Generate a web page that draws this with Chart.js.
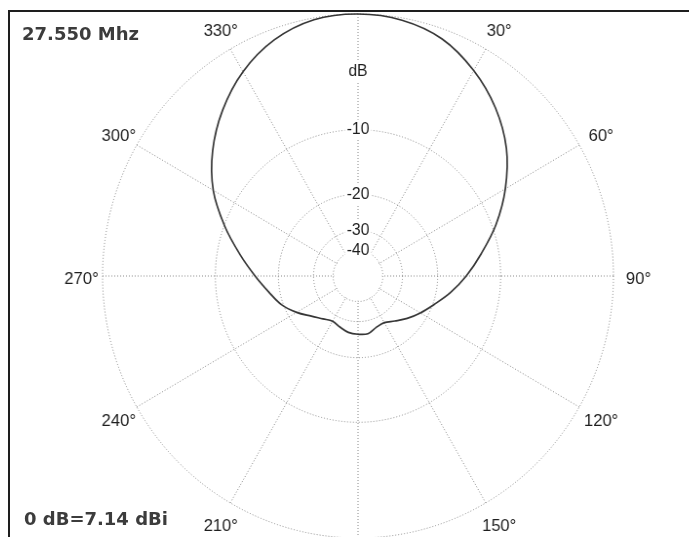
<!DOCTYPE html>
<html><head><meta charset="utf-8">
<script src="https://cdn.jsdelivr.net/npm/chart.js@4.4.1/dist/chart.umd.min.js"></script>
<style>
html,body{margin:0;padding:0;background:#fff;overflow:hidden;width:689px;height:537px;position:relative;}
#frame{position:absolute;left:8px;top:10px;width:800px;height:700px;border-left:2px solid #1e1e1e;border-top:2px solid #1e1e1e;}
#wrap{position:absolute;left:38px;top:4px;width:640px;height:544px;transform:scaleX(0.975);transform-origin:320px 272px;}
.txt{position:absolute;font-family:'DejaVu Sans',sans-serif;font-weight:bold;font-size:18px;line-height:20px;color:#3c3c3c;white-space:nowrap;}
</style></head><body>
<div id="frame"></div>
<div id="wrap"><canvas id="c" width="640" height="544"></canvas></div>
<div class="txt" style="left:22px;top:24px">27.550 Mhz</div>
<div class="txt" style="left:24px;top:509px">0 dB=7.14 dBi</div>
<script>
// azimuth of each sample (degrees, clockwise from top)
const azimuthDeg = [0,10,20,30,40,50,60,70,80,90,100,110,120,130,140,150,160,170,
                    180,190,200,210,220,230,240,250,260,270,280,290,300,310,320,330,340,350];
// relative gain (dB, 0 dB = 7.14 dBi)
const gainDb = [0,-0.15,-0.65,-1.7,-3.05,-4.75,-6.98,-9.5,-12.25,-14.74,-17.2,-19.7,-21.75,-23.7,-25.65,-27.15,-26.9,-25.7,
                -25.8,-26.1,-27.0,-27.7,-26.5,-24.6,-22.0,-19.6,-17.8,-15.6,-13.0,-10.1,-7.28,-5.1,-3.3,-1.8,-0.72,-0.12];
// labelled azimuths
const angleLabelDeg = [30,60,90,120,150,210,240,270,300,330];
// dB rings
const ringDb = [-40,-30,-20,-10];
const ringLabels = ['-40','-30','-20','-10'];
const unitLabel = 'dB';
const unitLabelPos = 0.78;
const angleLabelDist = 1.09; // label distance, relative to outer ring
const angleLabelShift = { dx: 2, dy: 3 };

// ARRL log scale: radius factor 0.89 per 2 dB
const arrl = db => Math.pow(0.89, -db / 2);

const tickValues = [0, ...ringDb.map(arrl), unitLabelPos, 1];
const tickTexts = ['', ...ringLabels, unitLabel, ''];
const FONT = "'Liberation Sans', Arial, sans-serif";

// blank the inside of the innermost ring (spokes start at the -40 dB ring)
const innerBlank = {
  id: 'innerBlank',
  beforeDatasetsDraw(chart) {
    const s = chart.scales.r, ctx = chart.ctx;
    const rr = s.getDistanceFromCenterForValue(arrl(ringDb[0])) - 0.8;
    ctx.save();
    ctx.fillStyle = '#ffffff';
    ctx.beginPath();
    ctx.arc(s.xCenter, s.yCenter, rr, 0, Math.PI * 2);
    ctx.fill();
    ctx.restore();
  }
};

// azimuth labels, centred on their spoke direction
const azimuthLabels = {
  id: 'azimuthLabels',
  afterDraw(chart) {
    const s = chart.scales.r, ctx = chart.ctx;
    ctx.save();
    ctx.font = '17px ' + FONT;
    ctx.fillStyle = '#1e1e1e';
    ctx.textAlign = 'center';
    ctx.textBaseline = 'middle';
    angleLabelDeg.forEach(deg => {
      const idx = azimuthDeg.indexOf(deg);
      const p = s.getPointPosition(idx, s.drawingArea * angleLabelDist);
      ctx.fillText(chart.data.labels[idx], p.x + angleLabelShift.dx, p.y + angleLabelShift.dy);
    });
    ctx.restore();
  }
};

new Chart(document.getElementById('c'), {
  type: 'radar',
  data: {
    labels: azimuthDeg.map(d => d + '\u00B0'),
    datasets: [{
      data: gainDb.map(arrl),
      borderColor: '#363636',
      borderWidth: 1.7,
      backgroundColor: 'rgba(0,0,0,0)',
      fill: false,
      pointRadius: 0,
      pointHoverRadius: 0,
      tension: 0.35
    }]
  },
  plugins: [innerBlank, azimuthLabels],
  options: {
    responsive: false,
    animation: false,
    events: [],
    layout: { padding: 0 },
    plugins: { legend: { display: false }, tooltip: { enabled: false }, title: { display: false } },
    scales: {
      r: {
        min: 0,
        max: 1,
        startAngle: 0,
        afterBuildTicks: scale => { scale.ticks = tickValues.map(v => ({ value: v })); },
        ticks: {
          display: true,
          z: 1,
          callback: (v, i) => tickTexts[i],
          font: { family: FONT, size: 16 },
          color: '#1e1e1e',
          backdropColor: '#ffffff',
          backdropPadding: 2,
          showLabelBackdrop: ctx => !!tickTexts[ctx.index]
        },
        grid: {
          circular: true,
          color: '#878787',
          lineWidth: ctx => (tickTexts[ctx.index] === unitLabel ? 0 : 1)
        },
        border: { dash: [1, 2] },
        angleLines: {
          display: true,
          color: '#878787',
          lineWidth: ctx => (azimuthDeg[ctx.index] % 30 === 0 ? 1 : 0),
          borderDash: [1, 2]
        },
        pointLabels: { display: false }
      }
    }
  }
});
</script>
</body></html>
